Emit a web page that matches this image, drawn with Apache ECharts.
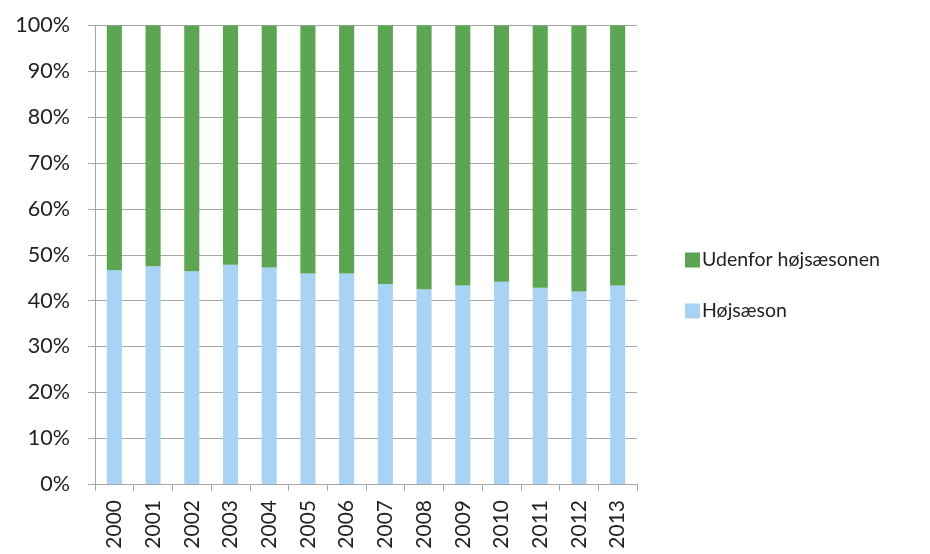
<!DOCTYPE html>
<html>
<head>
<meta charset="utf-8">
<script src="https://cdn.jsdelivr.net/npm/echarts@6/dist/echarts.min.js"></script>
<style>
  html, body { margin: 0; padding: 0; background: #fff; }
  #chart { width: 930px; height: 554px; }
</style>
</head>
<body>
<div id="chart"></div>
<script>
// Years on the category axis
const years = ['2000', '2001', '2002', '2003', '2004', '2005', '2006',
               '2007', '2008', '2009', '2010', '2011', '2012', '2013'];
// Share of the year in high season (%)
const hojsaeson = [46.6, 47.5, 46.4, 47.8, 47.2, 45.9, 45.9,
                   43.6, 42.5, 43.3, 44.1, 42.8, 42.0, 43.3];
// Share of the year outside high season (%)
const udenfor = [53.4, 52.5, 53.6, 52.2, 52.8, 54.1, 54.1,
                 56.4, 57.5, 56.7, 55.9, 57.2, 58.0, 56.7];
// Series names
const seriesNames = ['Udenfor højsæsonen', 'Højsæson'];

const font = 'Lato, "Open Sans", sans-serif';
const axisGrey = '#a6a6a6';
const textColor = '#222222';

const chart = echarts.init(document.getElementById('chart'), null, { renderer: 'canvas' });
chart.setOption({
  animation: false,
  backgroundColor: '#ffffff',
  grid: { left: 95, right: 293, top: 25.5, bottom: 70, containLabel: false },
  legend: {
    orient: 'vertical',
    left: 680,
    top: 245,
    itemWidth: 15,
    itemHeight: 15,
    itemGap: 31,
    icon: 'rect',
    data: [seriesNames[0], seriesNames[1]],
    textStyle: { fontFamily: font, fontSize: 19.5, color: textColor, padding: [0, 0, 0, -3] }
  },
  xAxis: {
    type: 'category',
    data: years,
    axisLine: { lineStyle: { color: axisGrey, width: 1 } },
    axisTick: { show: true, length: 7, lineStyle: { color: axisGrey } },
    axisLabel: { rotate: 90, fontFamily: font, fontSize: 21, color: textColor, margin: 16 }
  },
  yAxis: {
    type: 'value',
    min: 0,
    max: 100,
    interval: 10,
    axisLine: { show: true, lineStyle: { color: axisGrey, width: 1 } },
    axisTick: { show: true, length: 7, lineStyle: { color: axisGrey } },
    splitLine: { lineStyle: { color: axisGrey, width: 1 } },
    axisLabel: { formatter: '{value}%', fontFamily: font, fontSize: 21.5, color: textColor, margin: 25 }
  },
  series: [
    {
      name: seriesNames[1],
      type: 'bar',
      stack: 'total',
      barWidth: '39%',
      itemStyle: { color: '#a9d3f5' },
      data: hojsaeson
    },
    {
      name: seriesNames[0],
      type: 'bar',
      stack: 'total',
      barWidth: '39%',
      itemStyle: { color: '#5ba553' },
      data: udenfor
    }
  ]
});
</script>
</body>
</html>
